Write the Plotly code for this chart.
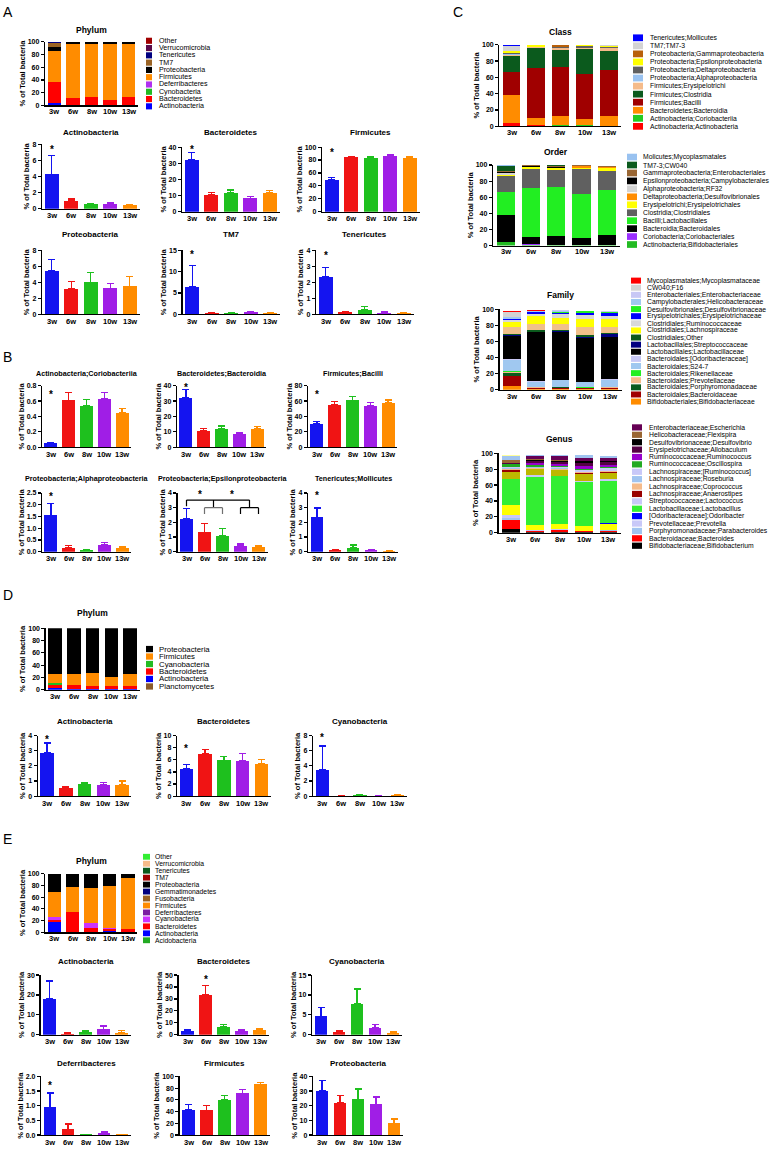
import plotly.graph_objects as go

W, H = 782, 1150
OX, OY = 0, 0
FONT = "Liberation Sans"

weeks = ["3w", "6w", "8w", "10w", "13w"]
week_colors = ["#1414F0", "#F01414", "#1EC01E", "#A01EE6", "#FF8C00"]

# ---------------- Panel A ----------------
phylA_names = ["Actinobacteria", "Bacteroidetes", "Cynobacteria", "Deferribacteres", "Firmicutes",
               "Proteobacteria", "TM7", "Tenericutes", "Verrucomicrobia", "Other"]
phylA_colors = ["#0000FF", "#FF0000", "#22BB22", "#B030F0", "#FF8C00",
                "#000000", "#9A6324", "#000080", "#5A0A4A", "#A00000"]
phylA_values = [
    [4.5, 1.0, 0.6, 0.6, 0.4],
    [32, 10.5, 11.8, 8.4, 12],
    [0.2, 0.1, 0.1, 0.1, 0.1],
    [0.1, 0.1, 0.1, 0.1, 0.1],
    [49, 85, 83.5, 87.2, 83.8],
    [5.5, 3.0, 3.6, 3.2, 3.4],
    [6.3, 0.2, 0.1, 0.2, 0.1],
    [2.0, 0.1, 0.2, 0.1, 0.05],
    [0.2, 0.0, 0.0, 0.0, 0.0],
    [0.2, 0.0, 0.1, 0.1, 0.05],
]

actA_vals = [4.25, 1.0, 0.55, 0.6, 0.45]
actA_errs = [2.35, 0.2, 0.1, 0.1, 0.05]
bacA_vals = [32, 10.5, 11.8, 8.4, 11.8]
bacA_errs = [4.8, 1.5, 1.6, 1.0, 1.5]
firA_vals = [49, 84.5, 83, 87, 83.5]
firA_errs = [4, 1.5, 2.5, 1, 1]
proA_vals = [5.45, 3.2, 4.0, 3.25, 3.5]
proA_errs = [1.45, 0.9, 1.2, 0.6, 1.2]
tm7A_vals = [6.5, 0.3, 0.2, 0.4, 0.3]
tm7A_errs = [5.0, 0.05, 0.05, 0.1, 0.05]
tenA_vals = [2.35, 0.15, 0.28, 0.1, 0.05]
tenA_errs = [0.6, 0.03, 0.2, 0.03, 0.02]

# ---------------- Panel B ----------------
corB_vals = [0.05, 0.61, 0.54, 0.63, 0.45]
corB_errs = [0.015, 0.1, 0.08, 0.08, 0.05]
bdiB_vals = [32.3, 10.8, 12, 8.6, 12]
bdiB_errs = [5, 1.5, 1.8, 0.8, 1.5]
bciB_vals = [30.5, 55, 61, 53.5, 58]
bciB_errs = [3, 4.5, 4.5, 4.5, 3.5]
alpB_vals = [1.55, 0.17, 0.05, 0.3, 0.16]
alpB_errs = [0.5, 0.08, 0.03, 0.08, 0.04]
epsB_vals = [2.25, 1.32, 1.1, 0.4, 0.32]
epsB_errs = [0.68, 0.6, 0.5, 0.12, 0.06]
molB_vals = [2.35, 0.12, 0.27, 0.08, 0.05]
molB_errs = [0.63, 0.03, 0.18, 0.03, 0.02]

# ---------------- Panel C ----------------
class_names = ["Actinobacteria;Actinobacteria", "Actinobacteria;Coriobacteriia", "Bacteroidetes;Bacteroidia",
               "Firmicutes;Bacilli", "Firmicutes;Clostridia", "Firmicutes;Erysipelotrichi",
               "Proteobacteria;Alphaproteobacteria", "Proteobacteria;Deltaproteobacteria",
               "Proteobacteria;Epsilonproteobacteria", "Proteobacteria;Gammaproteobacteria",
               "TM7;TM7-3", "Tenericutes;Mollicutes"]
class_colors = ["#FF0000", "#22CC22", "#FF8C00", "#A00000", "#0B5A1D", "#F5BB8A",
                "#99C2F0", "#606060", "#FFFF00", "#B8600A", "#D3D3D3", "#0000FF"]
class_values = [
    [4.5, 1.0, 0.6, 0.6, 0.4],
    [0.05, 0.6, 0.5, 0.6, 0.45],
    [33.5, 9.0, 11.0, 7.8, 12.0],
    [29, 61, 60, 55.5, 56],
    [19, 24, 22, 30, 24],
    [1.5, 1.5, 2.0, 1.5, 3.5],
    [1.5, 0.2, 0.05, 0.3, 0.2],
    [0.5, 0.5, 0.6, 2.5, 1.2],
    [2.3, 1.3, 1.1, 0.4, 0.3],
    [0.5, 0.3, 1.5, 0.3, 1.0],
    [6.0, 0.3, 0.2, 0.3, 0.2],
    [1.5, 0.1, 0.3, 0.1, 0.05],
]

order_names = ["Actinobacteria;Bifidobacteriales", "Coriobacteria;Coriobacteriales", "Bacteroidia;Bacteroidales",
               "Bacilli;Lactobacillales", "Clostridia;Clostridiales", "Erysipelotrichi;Erysipelotrichales",
               "Deltaproteobacteria;Desulfovibrionales", "Alphaproteobacteria;RF32",
               "Epsilonproteobacteria;Campylobacterales", "Gammaproteobacteria;Enterobacteriales",
               "TM7-3;CW040", "Molicutes;Mycoplasmatales"]
order_colors = ["#22BB22", "#9B30FF", "#000000", "#22EE22", "#606060", "#FFFF00",
                "#FF8C00", "#D3D3D3", "#000000", "#996633", "#0B5A1D", "#99C2F0"]
order_values = [
    [4.5, 1.0, 0.6, 0.6, 0.4],
    [0.05, 0.6, 0.5, 0.6, 0.45],
    [33.5, 9.0, 11.0, 7.8, 12.0],
    [29, 61, 60, 55.5, 56],
    [19, 24, 22, 30, 24],
    [1.5, 1.5, 2.0, 1.5, 3.5],
    [0.5, 0.5, 0.6, 2.5, 1.2],
    [1.5, 0.2, 0.05, 0.3, 0.2],
    [2.3, 1.3, 1.1, 0.4, 0.3],
    [0.5, 0.3, 1.5, 0.3, 1.0],
    [6.0, 0.3, 0.2, 0.3, 0.2],
    [1.5, 0.1, 0.3, 0.1, 0.05],
]

family_names = ["Bifidobacteriales;Bifidobacteriaceae", "Bacteroidales;Bacteroidaceae",
                "Bacteroidales;Porphyromonadaceae", "Bacteroidales;Prevotellaceae",
                "Bacteroidales;Rikenellaceae", "Bacteroidales;S24-7", "Bacteroidales;[Odoribacteraceae]",
                "Lactobacillales;Lactobacillaceae", "Lactobacillales;Streptococcaceae", "Clostridiales;Other",
                "Clostridiales;Unassigned", "Clostridiales;Lachnospiraceae", "Clostridiales;Ruminococcaceae",
                "Erysipelotrichales;Erysipelotrichaceae", "Desulfovibrionales;Desulfovibrionaceae",
                "Campylobacterales;Helicobacteraceae", "Enterobacteriales;Enterobacteriaceae",
                "CW040;F16", "Mycoplasmatales;Mycoplasmataceae"]
family_hidden = ["Clostridiales;Unassigned"]
family_colors = ["#FF8C00", "#A00000", "#0B5A1D", "#F5BB8A", "#22EE22", "#A0C8F0", "#C8C8F5",
                 "#000000", "#000080", "#0B5A1D", "#F0C08A", "#FFFF00", "#D8D8D8", "#0000FF",
                 "#22EE22", "#A0C8F0", "#C8C8F5", "#D3D3D3", "#FF0000"]
family_values = [
    [4.5, 1.0, 0.6, 0.6, 0.4],
    [12, 1.0, 2.0, 1.0, 1.5],
    [4.5, 0.5, 0.6, 0.5, 0.6],
    [1.0, 0.3, 0.4, 0.3, 0.4],
    [1.5, 0.3, 0.3, 0.5, 0.3],
    [13.5, 7.0, 8.0, 6.0, 9.0],
    [1.0, 0.3, 0.3, 0.3, 0.5],
    [29, 61, 60, 55.5, 53],
    [0.5, 0.5, 0.3, 0.5, 3.0],
    [1.0, 2.0, 2.0, 3.0, 2.0],
    [9.0, 7.5, 7.0, 9.0, 7.0],
    [6.0, 10.0, 8.0, 10.0, 10.0],
    [3.5, 3.0, 4.0, 6.0, 4.0],
    [0.5, 1.5, 2.0, 1.5, 3.5],
    [0.5, 0.5, 0.6, 2.5, 1.2],
    [2.3, 1.3, 1.1, 0.4, 0.3],
    [0.5, 0.3, 1.5, 0.3, 1.0],
    [6.0, 0.3, 0.2, 0.3, 0.2],
    [1.5, 0.1, 0.3, 0.1, 0.05],
]

genus_names = ["Bifidobacteriaceae;Bifidobacterium", "Bacteroidaceae;Bacteroides",
               "Porphyromonadaceae;Parabacteroides", "Prevotellaceae;Prevotella", "S24-7;Unassigned",
               "[Odoribacteraceae];Odoribacter", "Lactobacillaceae;Lactobacillus", "Streptococcaceae;Lactococcus",
               "Clostridiales;Unassigned", "Lachnospiraceae;Anaerostipes", "Lachnospiraceae;Coprococcus",
               "Lachnospiraceae;Roseburia", "Lachnospiraceae;[Ruminococcus]", "Ruminococcaceae;Oscillospira",
               "Ruminococcaceae;Ruminococcus", "Erysipelotrichaceae;Allobaculum",
               "Desulfovibrionaceae;Desulfovibrio", "Helicobacteraceae;Flexispira",
               "Enterobacteriaceae;Escherichia", "Mycoplasmataceae;Unassigned", "Other;Unassigned"]
genus_hidden = ["S24-7;Unassigned", "Clostridiales;Unassigned", "Mycoplasmataceae;Unassigned", "Other;Unassigned"]
genus_colors = ["#000000", "#FF0000", "#A0C4F0", "#C8C8F8", "#FFFF00", "#0000FF", "#33EE33", "#C8C8F8",
                "#BDB800", "#990000", "#F5BB8A", "#A0C4F0", "#C8C8F8", "#22AA22", "#9900CC", "#550044",
                "#000000", "#996633", "#660055", "#A0C4F0", "#FFFF99"]
genus_values = [
    [4.5, 1.0, 0.6, 0.6, 0.4],
    [12, 1.5, 2.5, 1.0, 2.0],
    [1.5, 0.3, 0.5, 0.3, 0.6],
    [4.0, 0.5, 0.5, 0.4, 0.4],
    [13, 6.0, 7.0, 6.0, 8.0],
    [0.5, 0.2, 0.2, 0.2, 0.3],
    [31.5, 61, 60, 55.5, 53],
    [0.5, 2.0, 0.5, 0.5, 3.0],
    [9.0, 8.0, 7.0, 10.0, 8.0],
    [2.0, 0.3, 0.5, 0.3, 0.5],
    [1.5, 1.0, 1.5, 1.5, 1.0],
    [1.0, 0.5, 0.5, 0.5, 0.5],
    [1.5, 1.0, 1.0, 2.0, 4.0],
    [4.0, 1.5, 1.5, 2.0, 1.5],
    [0.5, 2.5, 2.5, 3.5, 2.0],
    [0.5, 3.0, 2.5, 3.0, 3.5],
    [0.5, 1.5, 1.5, 2.5, 1.5],
    [3.5, 1.3, 1.1, 0.4, 0.3],
    [0.5, 3.5, 5.0, 4.0, 3.0],
    [4.0, 1.0, 1.0, 3.0, 3.0],
    [2.0, 0.5, 0.5, 0.5, 0.5],
]

# ---------------- Panel D ----------------
phylD_names = ["Planctomycetes", "Actinobacteria", "Bacteroidetes", "Cyanobacteria", "Firmicutes", "Proteobacteria"]
phylD_colors = ["#8B5A2B", "#0000FF", "#FF0000", "#22BB22", "#FF8C00", "#000000"]
phylD_values = [
    [0.1, 0.05, 0.05, 0.05, 0.05],
    [2.9, 0.55, 0.8, 0.75, 0.75],
    [4.5, 7.0, 5.9, 5.8, 5.3],
    [3.5, 0.05, 0.15, 0.1, 0.15],
    [15, 18.5, 21, 14.3, 19.7],
    [74.0, 73.85, 72.1, 79.0, 74.05],
]
actD_vals = [2.85, 0.55, 0.8, 0.75, 0.75]
actD_errs = [0.65, 0.1, 0.12, 0.13, 0.25]
bacD_vals = [4.5, 7.0, 5.9, 5.8, 5.35]
bacD_errs = [0.75, 0.7, 0.6, 1.2, 0.65]
cyaD_vals = [3.5, 0.05, 0.15, 0.08, 0.12]
cyaD_errs = [3.1, 0.02, 0.08, 0.04, 0.1]

# ---------------- Panel E ----------------
phylE_names = ["Acidobacteria", "Actinobacteria", "Bacteroidetes", "Cyanobacteria", "Deferribacteres",
               "Firmicutes", "Fusobacteria", "Gemmatimonadetes", "Proteobacteria", "TM7", "Tenericutes",
               "Verrucomicrobia", "Other"]
phylE_colors = ["#22AA22", "#0000FF", "#FF0000", "#CC33FF", "#7B1FA2", "#FF8C00", "#9A6324",
                "#000080", "#000000", "#A00000", "#0B5A1D", "#F5BB8A", "#33EE33"]
phylE_values = [
    [0.05, 0.02, 0.02, 0.02, 0.02],
    [18, 0.5, 1.3, 2.7, 1.0],
    [3.2, 34, 6.5, 3.2, 4.0],
    [4.6, 0.7, 7.7, 1.8, 0.5],
    [0.95, 0.2, 0.02, 0.07, 0.02],
    [42.5, 42, 60, 71, 86.5],
    [0.05, 0.05, 0.05, 0.05, 0.05],
    [0.02, 0.02, 0.02, 0.02, 0.02],
    [30.3, 22.3, 24.2, 21, 7.8],
    [0.1, 0.1, 0.1, 0.05, 0.05],
    [0.1, 0.05, 0.05, 0.05, 0.02],
    [0.05, 0.02, 0.02, 0.02, 0.01],
    [0.05, 0.02, 0.02, 0.02, 0.01],
]
actE_vals = [18, 0.5, 1.3, 2.7, 1.0]
actE_errs = [9, 0.3, 0.7, 1.6, 1.0]
bacE_vals = [3.2, 33.5, 6.5, 3.2, 4.0]
bacE_errs = [1.0, 8.0, 2.3, 0.8, 1.2]
cyaE_vals = [4.6, 0.7, 7.7, 1.8, 0.4]
cyaE_errs = [2.2, 0.35, 3.8, 0.7, 0.4]
defE_vals = [0.95, 0.2, 0.02, 0.07, 0.02]
defE_errs = [0.48, 0.18, 0.01, 0.05, 0.01]
firE_vals = [43, 42, 60, 71, 86.5]
firE_errs = [9, 9, 8, 7, 3]
proE_vals = [30, 22, 24.5, 21, 8]
proE_errs = [7, 5, 7, 5, 3]

# =====================================================================
fig = go.Figure()
layout = {}
shapes = []
annotations = []
counter = [0]

TICKFONT = dict(family=FONT, size=7, color="black", weight="bold")
XTICKFONT = dict(family=FONT, size=7.5, color="black", weight="bold")


def px(x):
    return (x - OX) / W


def py(y):
    return 1 - (y - OY) / H


def make_axes(x0, sp, ytop, ybot, ymax, tickvals, ticktext, label_dy):
    counter[0] += 1
    n = counter[0]
    s = "" if n == 1 else str(n)
    x1 = x0 + 5 * sp
    layout["xaxis" + s] = dict(domain=[px(x0), px(x1)], anchor="y" + s, type="category",
                               categoryorder="array", categoryarray=weeks,
                               range=[-0.5, 4.5], showline=True, linecolor="black", linewidth=1.2,
                               ticks="", showticklabels=False, showgrid=False, zeroline=False,
                               fixedrange=True)
    layout["yaxis" + s] = dict(domain=[py(ybot), py(ytop)], anchor="x" + s, range=[0, ymax],
                               showline=True, linecolor="black", linewidth=1.2, ticks="outside",
                               ticklen=3, tickwidth=1.2, tickcolor="black", tickvals=tickvals,
                               ticktext=ticktext, showgrid=False, zeroline=False, tickfont=TICKFONT,
                               title=dict(text="% of Total bacteria", standoff=1,
                                          font=dict(family=FONT, size=7.5, color="black", weight="bold")),
                               fixedrange=True)
    xa = "x" + s
    for i, w in enumerate(weeks):
        annotations.append(dict(x=i, y=py(ybot + label_dy), xref=xa, yref="paper", text=w, showarrow=False,
                                xanchor="center", yanchor="middle", font=XTICKFONT))
    return xa, "y" + s, (x0 + x1) / 2


def add_title(text, xc, yc, size=8):
    annotations.append(dict(x=px(xc), y=py(yc), xref="paper", yref="paper", text=text, showarrow=False,
                            xanchor="center", yanchor="middle",
                            font=dict(family=FONT, size=size, color="black", weight="bold")))


def ticks_for(ymax, step, fmt):
    vals = []
    v = 0.0
    while v <= ymax + 1e-9:
        vals.append(round(v, 6))
        v += step
    return vals, [fmt.format(t) for t in vals]


def bar_chart(x0, sp, ytop, ybot, title, title_y, vals, errs, ymax, step, fmt, stars, tsize=8):
    tv, tt = ticks_for(ymax, step, fmt)
    xa, ya, xc = make_axes(x0, sp, ytop, ybot, ymax, tv, tt, 7)
    for i, w in enumerate(weeks):
        fig.add_trace(go.Bar(x=[w], y=[vals[i]], xaxis=xa, yaxis=ya, width=0.72, showlegend=False,
                             marker=dict(color=week_colors[i], line=dict(width=0)),
                             error_y=dict(type="data", symmetric=False, array=[errs[i]], arrayminus=[0],
                                          color=week_colors[i], thickness=1.3, width=3.5)))
    add_title(title, xc, title_y, size=tsize)
    for (i, yv) in stars:
        annotations.append(dict(x=i, y=yv, xref=xa, yref=ya, text="*", showarrow=False,
                                xanchor="center", yanchor="middle",
                                font=dict(family=FONT, size=10, color="black", weight="bold")))
    return xa, ya


def stack_chart(x0, sp, ytop, ybot, title, title_y, names, values, colors):
    tv, tt = ticks_for(100, 20, "{:.0f}")
    xa, ya, xc = make_axes(x0, sp, ytop, ybot, 100, tv, tt, 6.5)
    for nm, vals, col in zip(names, values, colors):
        fig.add_trace(go.Bar(x=weeks, y=vals, name=nm, xaxis=xa, yaxis=ya, width=0.72, showlegend=False,
                             marker=dict(color=col, line=dict(width=0))))
    add_title(title, xc, title_y, size=8.5)


def legend(names, colors, hidden, sw0, sw1, tx, y0, dy, fsize):
    items = [(n, c) for n, c in zip(names, colors) if n not in hidden][::-1]
    for k, (lab, col) in enumerate(items):
        yc = y0 + k * dy
        shapes.append(dict(type="rect", xref="paper", yref="paper", x0=px(sw0), x1=px(sw1),
                           y0=py(yc + dy * 0.42), y1=py(yc - dy * 0.42),
                           fillcolor=col, line=dict(width=0)))
        annotations.append(dict(x=px(tx), y=py(yc), xref="paper", yref="paper", text=lab,
                                showarrow=False, xanchor="left", yanchor="middle",
                                font=dict(family=FONT, size=fsize, color="black")))


def panel_label(t, x, y):
    annotations.append(dict(x=px(x), y=py(y), xref="paper", yref="paper", text=t, showarrow=False,
                            xanchor="left", yanchor="middle", font=dict(family=FONT, size=14, color="black")))


# ---- Panel A ----
panel_label("A", 1, 8)
stack_chart(45, 18.6, 38, 102, "Phylum", 26, phylA_names, phylA_values, phylA_colors)
legend(phylA_names, phylA_colors, [], 146, 152, 157, 37, 7.33, 7.1)
bar_chart(42, 19.5, 141, 206, "Actinobacteria", 129, actA_vals, actA_errs, 8, 2, "{:.0f}", [(0, 7.3)])
bar_chart(182, 19.5, 144, 209, "Bacteroidetes", 129, bacA_vals, bacA_errs, 40, 10, "{:.0f}", [(0, 38.5)])
bar_chart(322, 19.5, 144, 209, "Firmicutes", 129, firA_vals, firA_errs, 100, 20, "{:.0f}", [(0, 91)])
bar_chart(42, 19.5, 248, 312, "Proteobacteria", 232, proA_vals, proA_errs, 8, 2, "{:.0f}", [])
bar_chart(182.5, 19.5, 248, 312, "TM7", 232, tm7A_vals, tm7A_errs, 15, 5, "{:.0f}", [(0, 14)])
bar_chart(316, 19.5, 248, 312, "Tenericutes", 232, tenA_vals, tenA_errs, 4, 1, "{:.0f}", [(0, 3.7)])

# ---- Panel B ----
panel_label("B", 1, 355)
bar_chart(42, 17.8, 384, 446, "Actinobacteria;Coriobacteriia", 372, corB_vals, corB_errs, 0.8, 0.2, "{:.1f}",
          [(0, 0.69)], tsize=7.2)
bar_chart(177, 17.8, 384, 446, "Bacteroidetes;Bacteroidia", 372, bdiB_vals, bdiB_errs, 40, 10, "{:.0f}",
          [(0, 38.5)], tsize=7.2)
bar_chart(308, 17.8, 384, 446, "Firmicutes;Bacilli", 372, bciB_vals, bciB_errs, 80, 20, "{:.0f}",
          [(0, 69)], tsize=7.2)
bar_chart(42, 17.8, 492, 551, "Proteobacteria;Alphaproteobacteria", 477, alpB_vals, alpB_errs, 2.5, 0.5, "{:.1f}",
          [(0, 2.37)], tsize=7.2)
xe, ye = bar_chart(177.5, 18, 492, 551, "Proteobacteria;Epsilonproteobacteria", 477, epsB_vals, epsB_errs, 4, 1,
                   "{:.0f}", [(0.75, 3.9), (2.5, 3.9)], tsize=7.2)
bar_chart(308, 18, 492, 551, "Tenericutes;Mollicutes", 477, molB_vals, molB_errs, 4, 1, "{:.0f}",
          [(0, 3.85)], tsize=7.2)

# significance brackets (Epsilonproteobacteria)
bracket_lines = [
    (0, 3.52, 3.5, 3.52, "black"),
    (0, 3.1, 0, 3.52, "black"),
    (1.5, 3.0, 1.5, 3.52, "black"),
    (3.5, 3.0, 3.5, 3.52, "black"),
    (1, 3.0, 2, 3.0, "#707070"),
    (1, 2.56, 1, 3.0, "#707070"),
    (2, 2.56, 2, 3.0, "#707070"),
    (3, 3.0, 4, 3.0, "black"),
    (3, 2.56, 3, 3.0, "black"),
    (4, 2.56, 4, 3.0, "black"),
]
for (bx0, by0, bx1, by1, col) in bracket_lines:
    shapes.append(dict(type="line", xref=xe, yref=ye, x0=bx0, y0=by0, x1=bx1, y1=by1,
                       line=dict(color=col, width=1.2)))

# ---- Panel C ----
panel_label("C", 451, 8)
stack_chart(499.3, 24.4, 41, 123, "Class", 28, class_names, class_values, class_colors)
legend(class_names, class_colors, [], 633, 643, 648, 34, 8.1, 6.8)
stack_chart(493, 25.3, 162, 243, "Order", 149, order_names, order_values, order_colors)
legend(order_names, order_colors, [], 627, 637, 641, 154, 8.0, 6.8)
stack_chart(499.5, 24.45, 307, 388, "Family", 293, family_names, family_values, family_colors)
legend(family_names, family_colors, family_hidden, 631, 641, 645, 278.3, 7.16, 6.8)
stack_chart(498.6, 24.4, 452, 532, "Genus", 438, genus_names, genus_values, genus_colors)
legend(genus_names, genus_colors, genus_hidden, 632, 642, 647, 426, 7.44, 6.8)

# ---- Panel D ----
panel_label("D", 1, 595)
stack_chart(45.6, 18.8, 628, 690, "Phylum", 613, phylD_names, phylD_values, phylD_colors)
legend(phylD_names, phylD_colors, [], 146, 153, 157, 649, 7.53, 7.8)
bar_chart(37.7, 18.75, 736, 797, "Actinobacteria", 722, actD_vals, actD_errs, 4, 1, "{:.0f}", [(0, 3.74)])
bar_chart(177, 18.75, 736, 797, "Bacteroidetes", 722, bacD_vals, bacD_errs, 10, 2, "{:.0f}", [(0, 7.8)])
bar_chart(313, 18.75, 736, 797, "Cyanobacteria", 722, cyaD_vals, cyaD_errs, 8, 2, "{:.0f}", [(0, 7.8)])

# ---- Panel E ----
panel_label("E", 1, 840)
stack_chart(45.1, 18.4, 875, 934, "Phylum", 862, phylE_names, phylE_values, phylE_colors)
legend(phylE_names, phylE_colors, [], 143, 150, 153, 858, 7.0, 6.8)
bar_chart(40.5, 18, 977, 1037, "Actinobacteria", 963, actE_vals, actE_errs, 30, 10, "{:.0f}", [(0, 30.3)])
bar_chart(178.5, 18, 977, 1037, "Bacteroidetes", 963, bacE_vals, bacE_errs, 50, 10, "{:.0f}", [(1, 46)])
bar_chart(312, 18, 977, 1037, "Cyanobacteria", 963, cyaE_vals, cyaE_errs, 15, 5, "{:.0f}", [])
bar_chart(41, 18, 1079, 1138, "Deferribacteres", 1066, defE_vals, defE_errs, 2.0, 0.5, "{:.1f}", [(0, 1.68)])
bar_chart(179.5, 18, 1079, 1138, "Firmicutes", 1066, firE_vals, firE_errs, 100, 20, "{:.0f}", [])
bar_chart(313, 18, 1079, 1138, "Proteobacteria", 1066, proE_vals, proE_errs, 40, 10, "{:.0f}", [])

fig.update_layout(width=W, height=H, margin=dict(l=0, r=0, t=0, b=0), barmode="stack",
                  plot_bgcolor="white", paper_bgcolor="white", showlegend=False, hovermode=False,
                  font=dict(family=FONT, color="black"), shapes=shapes, annotations=annotations, **layout)
fig.write_html("out.html", config={"displayModeBar": False, "staticPlot": True},
               post_script="document.body.style.margin='0px';")
